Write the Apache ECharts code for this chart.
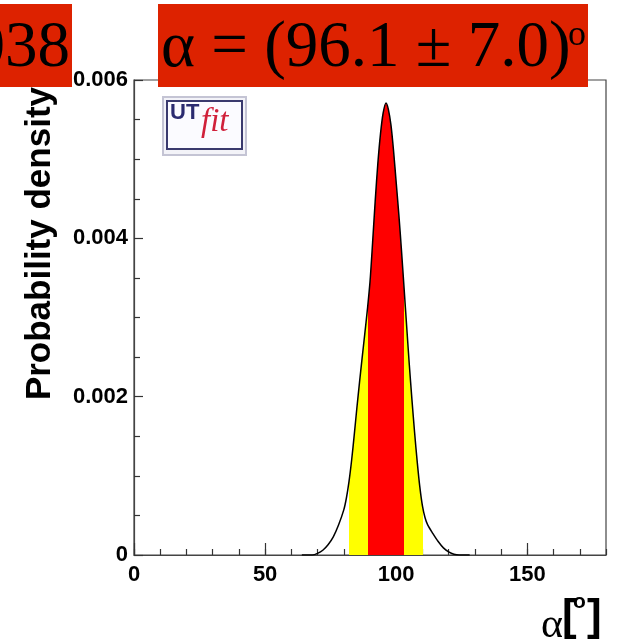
<!DOCTYPE html>
<html>
<head>
<meta charset="utf-8">
<script src="https://cdn.jsdelivr.net/npm/echarts@6/dist/echarts.min.js"></script>
<style>
html,body{margin:0;padding:0;background:#fff;}
#chart{width:620px;height:642px;}
</style>
</head>
<body>
<div id="chart"></div>
<script>
// alpha (degrees) and probability density
var alphaDeg = [64, 68, 70, 72, 74, 76, 78, 80, 81, 82, 83, 84, 85, 86, 87, 88, 89, 90, 91, 92, 93, 94, 95, 96.1,
                97, 98, 99, 100, 101, 102, 103, 104, 105, 106, 107, 108, 109, 110, 111, 112, 114, 116, 118, 120, 122, 124, 128];
var density  = [0, 0, 0.00002, 0.00006, 0.00013, 0.00023, 0.00038, 0.00057, 0.00072, 0.00093, 0.00120, 0.00152, 0.00186, 0.00218, 0.00249, 0.00279, 0.00310, 0.00345, 0.00395, 0.00448, 0.00495, 0.00532, 0.00558, 0.00571,
                0.00563, 0.00543, 0.00510, 0.00470, 0.00430, 0.00385, 0.00337, 0.00288, 0.00240, 0.00196, 0.00155, 0.00118, 0.00086, 0.00062, 0.00047, 0.00038, 0.00027, 0.00017, 0.00009, 0.00004, 0.00001, 0, 0];
var band68 = [89.1, 103.1];
var band95 = [82.0, 110.2];
var xMajorLabels = [0, 50, 100, 150];
var yTicks = [0, 0.002, 0.004, 0.006];
var titleText = 'α = (96.1 ± 7.0)';
var leftText = '038';
var yTitle = 'Probability density';

var pts = alphaDeg.map(function (a, i) { return [a, density[i]]; });

var chart = echarts.init(document.getElementById('chart'));
var labelFont = {fontFamily: '"Liberation Sans", Arial, sans-serif', fontWeight: 'bold', fontSize: 22, color: '#000'};

chart.setOption({
  animation: false,
  grid: {left: 134, right: 14, top: 80, bottom: 87, show: true, borderColor: '#444', borderWidth: 1.2, backgroundColor: 'transparent'},
  xAxis: [{
    type: 'value', min: 0, max: 180, interval: 10,
    axisLine: {lineStyle: {color: '#444', width: 1.2}},
    axisTick: {inside: true, length: 6, lineStyle: {color: '#333', width: 1.2}},
    axisLabel: Object.assign({margin: 9, customValues: xMajorLabels}, labelFont),
    splitLine: {show: false}
  }, {
    type: 'value', min: 0, max: 180, position: 'bottom',
    axisLine: {show: false},
    axisTick: {inside: true, length: 12, customValues: xMajorLabels, lineStyle: {color: '#333', width: 1.2}},
    axisLabel: {show: false},
    splitLine: {show: false}
  }],
  yAxis: {
    type: 'value', min: 0, max: 0.006, interval: 0.002,
    axisLine: {show: true, lineStyle: {color: '#444', width: 1.2}},
    axisTick: {inside: true, length: 9, lineStyle: {color: '#333', width: 1.2}},
    minorTick: {show: true, splitNumber: 4, length: 6, lineStyle: {color: '#333', width: 1.2}},
    axisLabel: Object.assign({margin: 6, customValues: yTicks}, labelFont),
    splitLine: {show: false}
  },
  visualMap: {
    type: 'piecewise', show: false, dimension: 0, seriesIndex: 0,
    pieces: [
      {lt: band95[0], color: 'rgba(255,255,255,0)'},
      {gte: band95[0], lt: band68[0], color: '#ffff00'},
      {gte: band68[0], lt: band68[1], color: '#ff0000'},
      {gte: band68[1], lt: band95[1], color: '#ffff00'},
      {gte: band95[1], color: 'rgba(255,255,255,0)'}
    ]
  },
  series: [{
    type: 'line', data: pts, smooth: 0.3, symbol: 'none',
    lineStyle: {width: 0},
    areaStyle: {opacity: 1},
    z: 2
  }, {
    type: 'line', data: pts, smooth: 0.3, symbol: 'none',
    lineStyle: {color: '#000', width: 1.5},
    z: 3
  }],
  graphic: [
    {type: 'text', x: 40, y: 87, rotation: Math.PI / 2, z: 5,
     style: {text: yTitle, align: 'right', verticalAlign: 'middle', fill: '#000',
             font: 'bold 35px "Liberation Sans", Arial, sans-serif'}},
    {type: 'rect', shape: {x: 0, y: 4, width: 72, height: 83}, style: {fill: '#dd2200'}, z: 10},
    {type: 'text', x: 70, y: 49, z: 11,
     style: {text: leftText, align: 'right', verticalAlign: 'middle', fill: '#000',
             font: '65px "Liberation Serif", "Times New Roman", serif'}},
    {type: 'rect', shape: {x: 158, y: 4, width: 430, height: 83}, style: {fill: '#dd2200'}, z: 10},
    {type: 'text', x: 161, y: 49, z: 11,
     style: {text: titleText, align: 'left', verticalAlign: 'middle', fill: '#000',
             font: '65px "Liberation Serif", "Times New Roman", serif'}},
    {type: 'text', x: 568, y: 36, z: 11,
     style: {text: 'o', align: 'left', verticalAlign: 'middle', fill: '#000',
             font: '36px "Liberation Serif", "Times New Roman", serif'}},
    // UTfit logo
    {type: 'rect', shape: {x: 163, y: 97, width: 83, height: 58}, style: {fill: '#f3f3f8', stroke: '#c4c4d4', lineWidth: 2}, z: 6},
    {type: 'rect', shape: {x: 167, y: 101, width: 75, height: 48}, style: {fill: '#fbfbff', stroke: '#3a3a6e', lineWidth: 2}, z: 6},
    {type: 'text', x: 170, y: 102, z: 7,
     style: {text: 'UT', align: 'left', verticalAlign: 'top', fill: '#2b2b70',
             font: 'bold 22px "Liberation Sans", Arial, sans-serif'}},
    {type: 'text', x: 201, y: 106, z: 7,
     style: {text: 'fit', align: 'left', verticalAlign: 'top', fill: '#d0203a',
             font: 'italic 33px "Liberation Serif", "Times New Roman", serif'}},
    // x axis title
    {type: 'text', x: 541, y: 626, z: 5,
     style: {text: 'α', align: 'left', verticalAlign: 'middle', fill: '#000',
             font: '42px "Liberation Serif", "Times New Roman", serif'}},
    {type: 'text', x: 562, y: 618, z: 5,
     style: {text: '[', align: 'left', verticalAlign: 'middle', fill: '#000',
             font: 'bold 44px "Liberation Sans", Arial, sans-serif'}},
    {type: 'text', x: 573, y: 602, z: 5,
     style: {text: 'o', align: 'left', verticalAlign: 'middle', fill: '#000',
             font: 'bold 21px "Liberation Sans", Arial, sans-serif'}},
    {type: 'text', x: 587, y: 618, z: 5,
     style: {text: ']', align: 'left', verticalAlign: 'middle', fill: '#000',
             font: 'bold 44px "Liberation Sans", Arial, sans-serif'}}
  ]
});
</script>
</body>
</html>
